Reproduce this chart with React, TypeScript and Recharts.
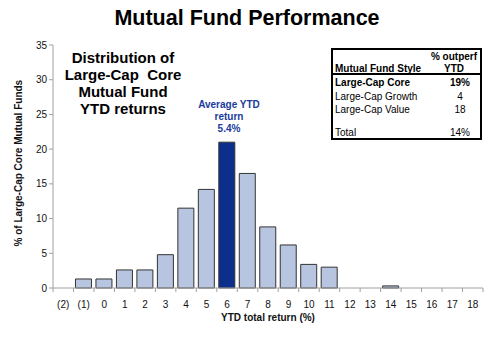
import { BarChart, Bar, XAxis, YAxis, Cell } from 'recharts';

const categories = ['(2)', '(1)', '0', '1', '2', '3', '4', '5', '6', '7', '8', '9', '10', '11', '12', '13', '14', '15', '16', '17', '18'];
const shares = [0, 1.3, 1.3, 2.6, 2.6, 4.8, 11.5, 14.2, 21.0, 16.5, 8.8, 6.2, 3.4, 3.0, 0, 0, 0.3, 0, 0, 0, 0];
const highlight = '6';
const yTicks = [0, 5, 10, 15, 20, 25, 30, 35];

const tableRows = [
    { style: 'Large-Cap Core', value: '19%', bold: true },
    { style: 'Large-Cap Growth', value: '4', bold: false },
    { style: 'Large-Cap Value', value: '18', bold: false },
];
const tableTotal = { style: 'Total', value: '14%' };

const data = categories.map((name, i) => ({ name, share: shares[i] }));

const W = 500;
const H = 337;
const PLOT_LEFT = 53;
const PLOT_RIGHT = 17;
const step = (W - PLOT_LEFT - PLOT_RIGHT) / categories.length;

const FONT = '"Liberation Sans", Arial, sans-serif';
const AXIS = '#a0a0a0';

// Excel style: labels centred, tick marks between categories
// eslint-disable-next-line @typescript-eslint/no-explicit-any
const XTick = (props: any) => {
    const { x, y, payload, index } = props;
    const isLast = index === categories.length - 1;
    return (
        <g>
            <line x1={x - step / 2} y1={y - 8} x2={x - step / 2} y2={y - 4} stroke={AXIS} />
            {isLast && <line x1={x + step / 2} y1={y - 8} x2={x + step / 2} y2={y - 4} stroke={AXIS} />}
            <text x={x} y={y + 12} textAnchor="middle" fontSize={10} fill="#111" fontFamily={FONT}>
                {payload.value}
            </text>
        </g>
    );
};

// one line of the little summary table, placed by its top edge
const Row = ({ top, left, right, bold, mid = 125 }: { top: number; left: string; right: string; bold?: boolean; mid?: number }) => (
    <div style={{ position: 'absolute', left: 2, right: 0, top, height: 12, lineHeight: '12px', fontWeight: bold ? 'bold' : 'normal', whiteSpace: 'nowrap' }}>
        <span>{left}</span>
        <span style={{ position: 'absolute', left: mid, top: 0, transform: 'translateX(-50%)' }}>{right}</span>
    </div>
);

export default function App() {
    return (
        <div style={{ position: 'absolute', left: 0, top: 0, width: W, height: H, background: '#fff', fontFamily: FONT }}>
            <div style={{ position: 'absolute', left: 0, width: W - 6, top: 6, textAlign: 'center', fontSize: 21.5, fontWeight: 'bold', color: '#000' }}>
                Mutual Fund Performance
            </div>

            <BarChart
                width={W}
                height={H}
                data={data}
                margin={{ top: 45, right: PLOT_RIGHT, bottom: 19, left: 0 }}
                barSize={16}
            >
                <XAxis
                    dataKey="name"
                    height={30}
                    axisLine={{ stroke: AXIS }}
                    tickLine={false}
                    tick={<XTick />}
                    interval={0}
                    label={{ value: 'YTD total return (%)', position: 'insideBottom', offset: -3, fontSize: 10, fontWeight: 'bold', fill: '#111', fontFamily: FONT }}
                />
                <XAxis xAxisId="top" orientation="top" dataKey="name" height={0} tick={false} tickLine={false} axisLine={{ stroke: AXIS }} />
                <YAxis
                    width={PLOT_LEFT}
                    domain={[0, 35]}
                    ticks={yTicks}
                    interval={0}
                    axisLine={{ stroke: AXIS }}
                    tickLine={{ stroke: AXIS }}
                    tickSize={4}
                    tick={{ fontSize: 10, fill: '#111', fontFamily: FONT }}
                    label={{ value: '% of Large-Cap Core Mutual Funds', angle: -90, position: 'insideLeft', offset: 18, dy: 80, fontSize: 10, fontWeight: 'bold', fill: '#111', fontFamily: FONT }}
                />
                <YAxis yAxisId="right" orientation="right" width={0} tick={false} tickLine={false} axisLine={{ stroke: AXIS }} />
                <Bar dataKey="share" stroke="#333" strokeWidth={1} isAnimationActive={false}>
                    {data.map(d => (
                        <Cell key={d.name} fill={d.name === highlight ? '#0d2f8c' : '#b8c5e1'} />
                    ))}
                </Bar>
            </BarChart>

            <div style={{ position: 'absolute', left: 48, width: 150, top: 49, textAlign: 'center', fontSize: 15, lineHeight: '17px', fontWeight: 'bold', color: '#000' }}>
                Distribution of<br />Large-Cap&nbsp; Core<br />Mutual Fund<br />YTD returns
            </div>

            <div style={{ position: 'absolute', left: 180, width: 98, top: 99, textAlign: 'center', fontSize: 10, lineHeight: '12px', fontWeight: 'bold', color: '#1a3c9c' }}>
                Average YTD<br />return<br />5.4%
            </div>

            <div style={{ position: 'absolute', left: 331, top: 48, width: 147, height: 88, border: '2px solid #000', fontSize: 10, color: '#000', background: '#fff' }}>
                <Row top={1} left="" right="% outperf" bold mid={119} />
                <Row top={13} left="Mutual Fund Style" right="YTD" bold mid={119} />
                <div style={{ position: 'absolute', left: 0, right: 0, top: 23, borderTop: '2px solid #000' }} />
                {tableRows.map((r, i) => (
                    <Row key={r.style} top={27 + i * 13.5} left={r.style} right={r.value} bold={r.bold} />
                ))}
                <Row top={77} left={tableTotal.style} right={tableTotal.value} />
            </div>
        </div>
    );
}
